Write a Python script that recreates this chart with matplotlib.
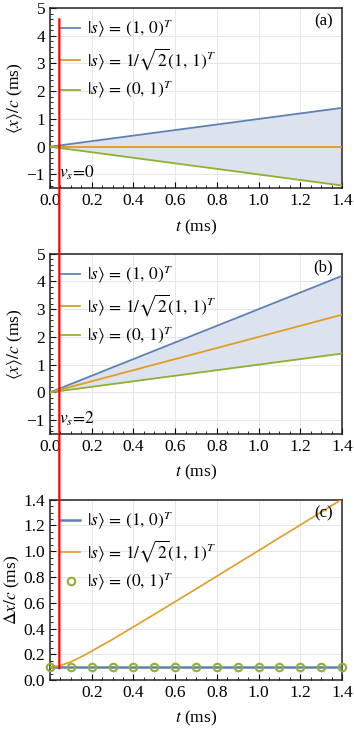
import matplotlib
matplotlib.use("Agg")
import matplotlib.pyplot as plt
from matplotlib.patches import ConnectionPatch
from matplotlib.ticker import MultipleLocator, FormatStrFormatter

plt.rcParams['font.family'] = ['Liberation Serif', 'DejaVu Serif']
plt.rcParams['mathtext.fontset'] = 'stix'

# ---- data ----
t = [0.0, 0.2, 0.4, 0.6, 0.8, 1.0, 1.2, 1.4]
# panel (a), v_s = 0
a_s10 = [0.0, 0.2, 0.4, 0.6, 0.8, 1.0, 1.2, 1.4]
a_s11 = [0.0, 0.0, 0.0, 0.0, 0.0, 0.0, 0.0, 0.0]
a_s01 = [0.0, -0.2, -0.4, -0.6, -0.8, -1.0, -1.2, -1.4]
# panel (b), v_s = 2
b_s10 = [0.0, 0.6, 1.2, 1.8, 2.4, 3.0, 3.6, 4.2]
b_s11 = [0.0, 0.4, 0.8, 1.2, 1.6, 2.0, 2.4, 2.8]
b_s01 = [0.0, 0.2, 0.4, 0.6, 0.8, 1.0, 1.2, 1.4]
# panel (c), spread
tc = [0.0, 0.05, 0.1, 0.15, 0.2, 0.3, 0.4, 0.5, 0.6, 0.7, 0.8, 0.9, 1.0, 1.1, 1.2, 1.3, 1.4]
c_s10 = [0.1] * len(tc)
c_s11 = [0.10, 0.112, 0.141, 0.180, 0.224, 0.316, 0.412, 0.510, 0.608, 0.707, 0.806, 0.906,
         1.005, 1.105, 1.204, 1.304, 1.404]
tc_pts = [0.0, 0.1, 0.2, 0.3, 0.4, 0.5, 0.6, 0.7, 0.8, 0.9, 1.0, 1.1, 1.2, 1.3, 1.4]
c_s01 = [0.1] * len(tc_pts)
t_mark = 0.045

labels = [r'$|s\rangle\,=\,(1,\,0)^T$',
          r'$|s\rangle\,=\,1/\sqrt{2}(1,\,1)^T$',
          r'$|s\rangle\,=\,(0,\,1)^T$']

BLUE = '#5E81B5'
ORANGE = '#E19C24'
GREEN = '#8FB032'
FILL = '#DDE3EE'

fig = plt.figure(figsize=(3.54, 7.29), dpi=100)
W = 0.825
L = 0.1412
axa = fig.add_axes([L, 0.7417, W, 0.2473])
axb = fig.add_axes([L, 0.4047, W, 0.2473])
axc = fig.add_axes([L, 0.0672, W, 0.2473])

FS = 12.5
LEG = dict(loc='upper left', bbox_to_anchor=(0.02, 0.975), frameon=False, fontsize=FS,
           handlelength=1.1, handletextpad=0.4, labelspacing=0.38, borderaxespad=0.1,
           borderpad=0.2)


def style(ax):
    for s in ax.spines.values():
        s.set_linewidth(1.1)
        s.set_color('#222222')
    ax.tick_params(which='both', direction='in', top=False, right=False, labelsize=FS)
    ax.tick_params(which='major', length=4, width=0.8)
    ax.tick_params(which='minor', length=2.2, width=0.6)
    ax.grid(True, which='major', color='#E6E6E6', linewidth=0.7)
    ax.set_axisbelow(True)
    ax.set_xlim(0, 1.4)
    ax.xaxis.set_major_locator(MultipleLocator(0.2))
    ax.xaxis.set_minor_locator(MultipleLocator(0.05))
    ax.xaxis.set_major_formatter(FormatStrFormatter('%.1f'))
    ax.set_xlabel(r'$t$ (ms)', fontsize=FS, labelpad=6)


for ax, (s10, s11, s01), tag, vs in [(axa, (a_s10, a_s11, a_s01), '(a)', r'$v_s\!=\!0$'),
                                     (axb, (b_s10, b_s11, b_s01), '(b)', r'$v_s\!=\!2$')]:
    style(ax)
    ax.fill_between(t, s01, s10, color=FILL, linewidth=0, zorder=1)
    ax.plot(t, s10, color=BLUE, lw=1.3, label=labels[0], zorder=3)
    ax.plot(t, s11, color=ORANGE, lw=1.3, label=labels[1], zorder=3)
    ax.plot(t, s01, color=GREEN, lw=1.3, label=labels[2], zorder=3)
    ax.set_ylim(-1.5, 5)
    ax.yaxis.set_major_locator(MultipleLocator(1))
    ax.yaxis.set_minor_locator(MultipleLocator(0.2))
    ax.set_ylabel(r'$\langle x\rangle/c$ (ms)', fontsize=FS, labelpad=1)
    ax.text(0.97, 0.97, tag, transform=ax.transAxes, ha='right', va='top', fontsize=FS - 0.5)
    ax.text(0.03, 0.035, vs, transform=ax.transAxes, ha='left', va='bottom', fontsize=FS)
    ax.legend(**LEG)

style(axc)
axc.plot(tc, c_s10, color=BLUE, lw=1.8, label=labels[0], zorder=3)
axc.plot(tc, c_s11, color=ORANGE, lw=1.2, label=labels[1], zorder=3)
axc.plot(tc_pts, c_s01, linestyle='none', marker='o', markersize=5.4, markerfacecolor='none',
         markeredgecolor=GREEN, markeredgewidth=1.5, label=labels[2], zorder=4, clip_on=False)
axc.set_ylim(0, 1.4)
axc.set_xticks([0.2, 0.4, 0.6, 0.8, 1.0, 1.2, 1.4])
axc.xaxis.set_minor_locator(MultipleLocator(0.05))
axc.yaxis.set_major_locator(MultipleLocator(0.2))
axc.yaxis.set_minor_locator(MultipleLocator(0.05))
axc.yaxis.set_major_formatter(FormatStrFormatter('%.1f'))
axc.set_ylabel(r'$\Delta x/c$ (ms)', fontsize=FS, labelpad=1)
axc.text(0.97, 0.97, '(c)', transform=axc.transAxes, ha='right', va='top', fontsize=FS - 0.5)
axc.legend(**LEG)

# red marker line spanning the panels
con = ConnectionPatch(xyA=(t_mark, 4.6), coordsA=axa.transData,
                      xyB=(t_mark, 0.09), coordsB=axc.transData,
                      color='#FF0000', lw=1.6, zorder=10)
fig.add_artist(con)

fig.savefig('out.png', dpi=100)
